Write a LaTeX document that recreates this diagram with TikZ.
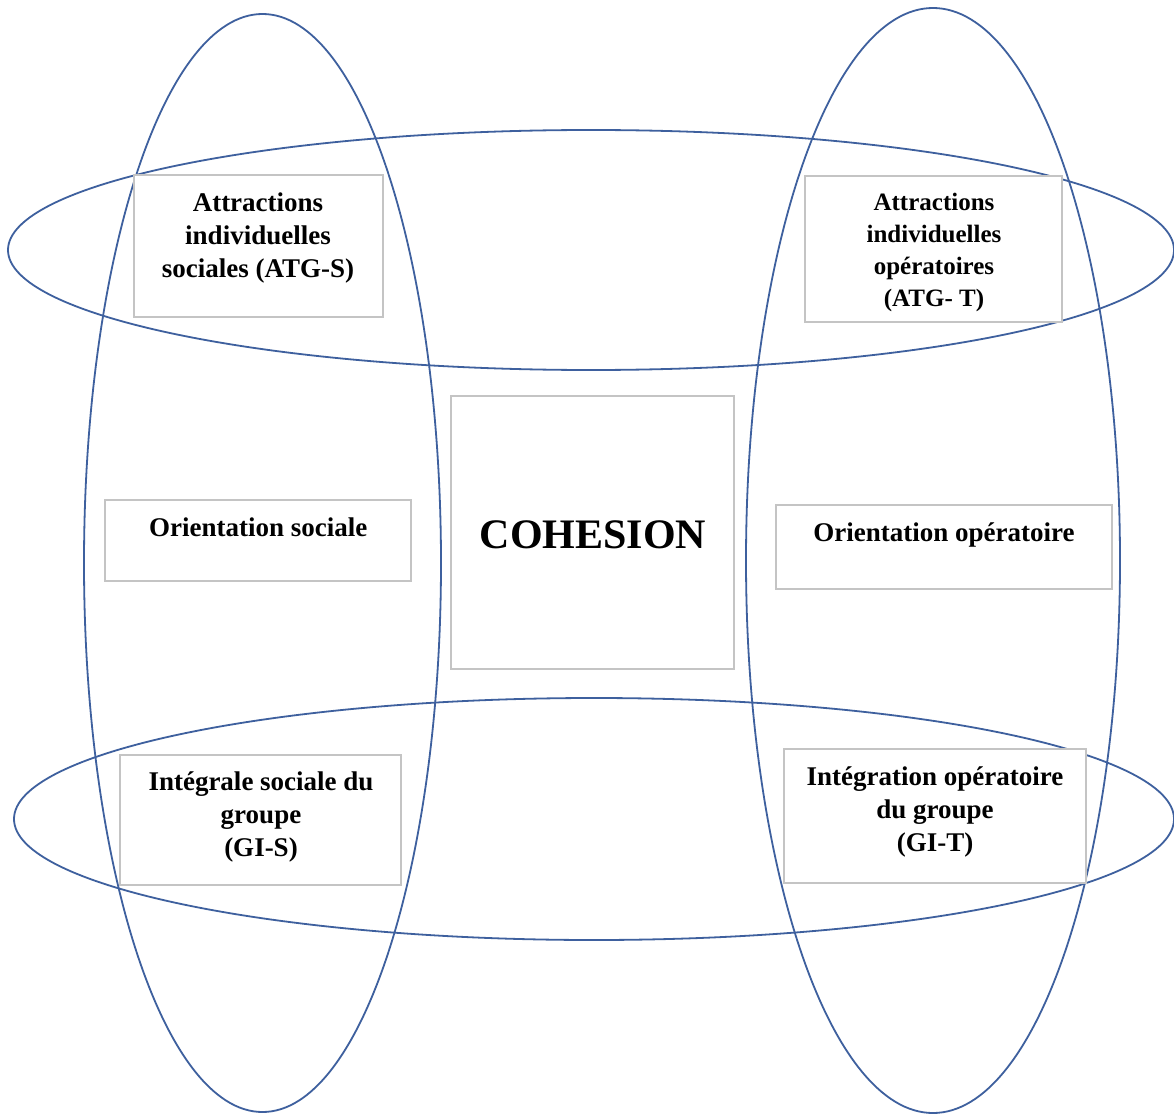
\documentclass[tikz,border=0pt]{standalone}
\usepackage{fontspec}
\setmainfont{Liberation Serif}
\definecolor{ellblue}{RGB}{62,96,158}
\definecolor{boxgray}{RGB}{196,196,196}
\begin{document}
\begin{tikzpicture}[x=1pt,y=-1pt,
  ell/.style={draw=ellblue, line width=1.8pt},
  box/.style={draw=boxgray, line width=1.3pt, fill=white, inner sep=0pt},
  lbl/.style={font=\bfseries\fontsize{27}{33}\selectfont, align=center, inner sep=0pt},
  lbls/.style={font=\bfseries\fontsize{25}{32}\selectfont, align=center, inner sep=0pt}]
\useasboundingbox (0,0) rectangle (1174,1115);
\clip (0,0) rectangle (1174,1115);
\fill[white] (0,0) rectangle (1174,1115);
% ellipses
\draw[ell] (262.5,563) ellipse [x radius=178.5, y radius=549];
\draw[ell] (933,560.5) ellipse [x radius=187, y radius=552.5];
\draw[ell] (591,250) ellipse [x radius=583, y radius=120];
\draw[ell] (594,819) ellipse [x radius=580, y radius=121];
% boxes
\node[box, minimum width=249, minimum height=142] (atgs) at (258.5,246) {};
\node[box, minimum width=257, minimum height=146] (atgt) at (933.5,249) {};
\node[box, minimum width=306, minimum height=81] (os) at (258,540.5) {};
\node[box, minimum width=283, minimum height=273] (coh) at (592.5,532.5) {};
\node[box, minimum width=336, minimum height=84] (oo) at (944,547) {};
\node[box, minimum width=281, minimum height=130] (gis) at (260.5,820) {};
\node[box, minimum width=302, minimum height=134] (git) at (935,816) {};
% texts
\node[lbl, anchor=north] (tatgs) at (258,193) {Attractions\\individuelles\\sociales (ATG-S)};
\node[lbls, anchor=north] (tatgt) at (934,193) {Attractions\\individuelles\\opératoires\\(ATG- T)};
\node[lbl, anchor=base] (tos) at (258.3,536.7) {Orientation sociale};
\node[lbl, anchor=base] (too) at (944,541.7) {Orientation opératoire};
\node[font=\bfseries\fontsize{42}{48}\selectfont, inner sep=0pt, anchor=base] (tcoh) at (593,548) {COHESION};
\node[lbl, anchor=north] (tgis) at (261,772) {Intégrale sociale du\\groupe\\(GI-S)};
\node[lbl, anchor=north] (tgit) at (935,767) {Intégration opératoire\\du groupe\\(GI-T)};
\end{tikzpicture}
\end{document}
